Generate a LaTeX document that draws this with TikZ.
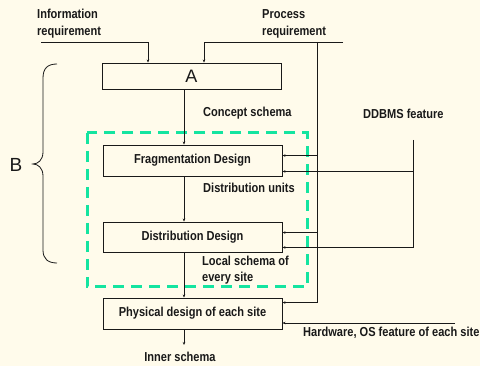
\documentclass[tikz,border=0pt]{standalone}
\usepackage{fontspec}
\setmainfont{Liberation Sans}
\newfontfamily\labf[FakeStretch=0.85]{Liberation Sans}
\usetikzlibrary{arrows.meta,calc}
\definecolor{bgc}{RGB}{255,251,235}
\definecolor{grn}{RGB}{20,228,160}
\definecolor{ink}{RGB}{25,25,25}
\begin{document}
\begin{tikzpicture}[x=1pt,y=-1pt,
  box/.style={draw=ink,line width=0.9pt,minimum width=179pt,inner sep=0pt,font=\labf\fontsize{13}{15}\selectfont\bfseries,text=ink},
  lab/.style={font=\labf\fontsize{13}{15}\selectfont\bfseries,text=ink,inner sep=0pt,align=left},
  ln/.style={draw=ink,line width=0.8pt},
  arr/.style={ln,-{Stealth[length=3pt,width=2.5pt]}}]
\fill[bgc] (0,0) rectangle (480,366);
\useasboundingbox (0,0) rectangle (480,366);
% boxes
\node[box,minimum height=26pt,font=\rmfamily\fontsize{18}{20}\selectfont] (A) at (191.5,76) {A};
\node[box,minimum height=31pt] (F) at (192.5,160.5) {Fragmentation Design};
\node[box,minimum height=30pt] (D) at (192.5,237) {Distribution Design};
\node[box,minimum height=31pt] (P) at (192.5,313.5) {Physical design of each site};
% green dashed region
\draw[grn,line width=3pt,dash pattern=on 11pt off 7pt] (87,133) rectangle (307,287);
% labels
\node[lab,anchor=west,font=\labf\fontsize{13}{17}\selectfont\bfseries] (ir) at (37,23.5) {Information\\requirement};
\node[lab,anchor=west,font=\labf\fontsize{13}{17}\selectfont\bfseries] (pr) at (262,23.5) {Process\\requirement};
\node[lab,anchor=west] (cs) at (203,113) {Concept schema};
\node[lab,anchor=west] (dbf) at (363,114) {DDBMS feature};
\node[lab,anchor=west] (du) at (203,188) {Distribution units};
\node[lab,anchor=west,font=\labf\fontsize{13}{16}\selectfont\bfseries] (ls) at (202,270) {Local schema of\\every site};
\node[lab,anchor=west] (hw) at (303,333) {Hardware, OS feature of each site};
\node[lab] (is) at (180,357) {Inner schema};
\node[font=\rmfamily\fontsize{19}{21}\selectfont,text=ink,inner sep=0pt] (B) at (16,165) {B};
% helper coordinates
\coordinate (cx) at (184,0);
\coordinate (irx) at (148,0);
\coordinate (prx) at (204,0);
\coordinate (irs) at (41,42);
\coordinate (prs) at (343,42);
\coordinate (pv) at (317,42);
\coordinate (dd) at (413,140);
\coordinate (hws) at (455,323);
\coordinate (ins) at (184,345);
% input arrows
\draw[arr] (irs) -| (A.north -| irx);
\draw[arr] (prs) -| (A.north -| prx);
% main flow
\draw[arr] (A.south -| cx) -- (F.north -| cx);
\draw[arr] (F.south -| cx) -- (D.north -| cx);
\draw[arr] (D.south -| cx) -- (P.north -| cx);
\draw[arr] (P.south -| cx) -- (ins);
% process requirement feed
\draw[arr] (pv) |- ($(P.north east)+(0,5)$);
\draw[arr] ($(pv |- F.north east)+(0,11)$) -- ($(F.north east)+(0,11)$);
\draw[arr] ($(pv |- D.north east)+(0,11)$) -- ($(D.north east)+(0,11)$);
% DDBMS feature feed
\draw[arr] (dd) |- ($(D.south east)+(0,-5)$);
\draw[arr] ($(dd |- F.south east)+(0,-5)$) -- ($(F.south east)+(0,-5)$);
% hardware feed
\draw[arr] (hws) -- (hws -| P.east);
% brace
\draw[ink,line width=0.8pt] (57,64) .. controls (48,64) and (43,68) .. (43,78) -- (43,152)
  .. controls (43,160) and (38,164) .. (33,164) .. controls (38,164) and (43,168) .. (43,176)
  -- (43,250) .. controls (43,259) and (48,263) .. (57,263);
\end{tikzpicture}
\end{document}
